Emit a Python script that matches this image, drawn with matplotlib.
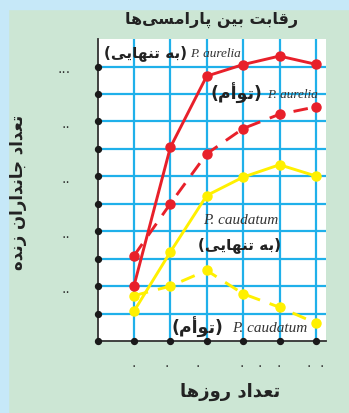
import matplotlib
matplotlib.use("Agg")
import matplotlib.pyplot as plt
from matplotlib.patches import Rectangle

# ---------------- data ----------------
days = [1, 2, 3, 4, 5, 6]
aurelia_alone = [2.0, 7.05, 9.65, 10.07, 10.38, 10.08]
aurelia_mixed = [3.1, 5.0, 6.82, 7.74, 8.26, 8.53]
caudatum_alone = [1.08, 3.24, 5.3, 5.97, 6.42, 6.01]
caudatum_mixed = [1.65, 2.0, 2.57, 1.72, 1.23, 0.65]

ytick_pos = [2, 4, 6, 8, 10]
ytick_labels = ['..', '..', '..', '..', '...']
xtick_pos = [1.0, 1.9, 2.75, 3.95, 4.45, 4.97, 5.8, 6.15]
xtick_labels = ['.'] * 8

title_fa = 'رقابت بین پارامسی\u200cها'
ylabel_fa = 'تعداد جانداران زنده'
xlabel_fa = 'تعداد روزها'
alone_fa = 'به تنهایی'
mixed_fa = 'توأم'

# ------------- simple Persian shaping -------------
FORMS = {
    'ا': ('\uFE8D', '\uFE8E'), 'أ': ('\uFE83', '\uFE84'),
    'د': ('\uFEA9', '\uFEAA'), 'ر': ('\uFEAD', '\uFEAE'),
    'ز': ('\uFEAF', '\uFEB0'), 'و': ('\uFEED', '\uFEEE'),
    'ب': ('\uFE8F', '\uFE90', '\uFE91', '\uFE92'),
    'ت': ('\uFE95', '\uFE96', '\uFE97', '\uFE98'),
    'ج': ('\uFE9D', '\uFE9E', '\uFE9F', '\uFEA0'),
    'س': ('\uFEB1', '\uFEB2', '\uFEB3', '\uFEB4'),
    'ع': ('\uFEC9', '\uFECA', '\uFECB', '\uFECC'),
    'ق': ('\uFED5', '\uFED6', '\uFED7', '\uFED8'),
    'م': ('\uFEE1', '\uFEE2', '\uFEE3', '\uFEE4'),
    'ن': ('\uFEE5', '\uFEE6', '\uFEE7', '\uFEE8'),
    'ه': ('\uFEE9', '\uFEEA', '\uFEEB', '\uFEEC'),
    'ی': ('\uFEEF', '\uFEF0', '\uFEF3', '\uFEF4'),
    'پ': ('\uFB56', '\uFB57', '\uFB58', '\uFB59'),
}


def shape(s):
    out = []
    for i, c in enumerate(s):
        if c not in FORMS:
            if c != '\u200c':
                out.append(c)
            continue
        prev = s[i - 1] if i > 0 else None
        nxt = s[i + 1] if i + 1 < len(s) else None
        pj = prev in FORMS and len(FORMS[prev]) == 4
        nj = len(FORMS[c]) == 4 and nxt in FORMS
        f = FORMS[c]
        if pj and nj:
            g = f[3]
        elif pj:
            g = f[1]
        elif nj:
            g = f[2]
        else:
            g = f[0]
        out.append(g)
    return ''.join(reversed(out))


def paren(s):
    return '(' + shape(s) + ')'


# ------------- figure -------------
W, H = 349, 414
fig = plt.figure(figsize=(W / 100, H / 100), dpi=100, facecolor='#cce6d4')
fig.patches.append(Rectangle((0, 0), 8 / W, 1, transform=fig.transFigure,
                             color='#c6e8f8', zorder=0))
fig.patches.append(Rectangle((0, 1 - 10 / H), 1, 10 / H, transform=fig.transFigure,
                             color='#c6e8f8', zorder=0))

x0, x1, y0, y1 = 97.5, 326, 342, 40
ax = fig.add_axes([x0 / W, 1 - y0 / H, (x1 - x0) / W, (y0 - y1) / H])
ax.set_facecolor('white')
ax.set_xlim(0, (x1 - x0) / 36.4)
ax.set_ylim(0, (y0 - y1) / 27.45)

grid_c = '#1fb0ea'
for d in days:
    ax.axvline(d, color=grid_c, lw=1.6, zorder=1)
for yy in range(1, 11):
    ax.axhline(yy, color=grid_c, lw=1.6, zorder=1)

for s in ['top', 'right']:
    ax.spines[s].set_visible(False)
for s in ['left', 'bottom']:
    ax.spines[s].set_color('#333333')
    ax.spines[s].set_linewidth(1.3)

# black dots on axes
ax.scatter([0] * 11, list(range(0, 11)), s=18, color='#1a1a1a', clip_on=False, zorder=5)
ax.scatter(days, [0] * len(days), s=18, color='#1a1a1a', clip_on=False, zorder=5)

red = '#e8202a'
yellow = '#fff000'
lw = 2.1
ms = 6.5
ax.plot(days, aurelia_alone, color=red, lw=lw, marker='o', ms=ms, zorder=4)
ax.plot(days, aurelia_mixed, color=red, lw=lw, marker='o', ms=ms, zorder=4,
        linestyle=(0, (5, 3.5)))
ax.plot(days, caudatum_alone, color=yellow, lw=lw, marker='o', ms=ms, zorder=3)
ax.plot(days, caudatum_mixed, color=yellow, lw=lw, marker='o', ms=ms, zorder=3,
        linestyle=(0, (5, 3.5)))

ax.set_yticks(ytick_pos)
ax.set_yticklabels(ytick_labels, fontsize=10, color='#333333')
ax.set_xticks(xtick_pos)
ax.set_xticklabels(xtick_labels, fontsize=10, color='#333333')
ax.tick_params(axis='y', length=0, pad=19.5)
ax.tick_params(axis='x', length=0, pad=10)


def px(xp, yp):
    return ((xp - x0) / 36.4, (y0 - yp) / 27.45)


fa_font = dict(family='DejaVu Sans', fontweight='bold', color='#222222')
lat_font = dict(family='Liberation Serif', style='italic', color='#333333')

# annotations
ax.text(*px(187, 53), paren(alone_fa), ha='right', va='center', fontsize=11, **fa_font)
ax.text(*px(190, 57), 'P. aurelia', ha='left', va='baseline', fontsize=9.5, **lat_font)

ax.text(*px(262, 93), paren(mixed_fa), ha='right', va='center', fontsize=12.5, **fa_font)
ax.text(*px(267, 98), 'P. aurelia', ha='left', va='baseline', fontsize=9.5, **lat_font)

ax.text(*px(241, 224), 'P. caudatum', ha='center', va='baseline', fontsize=11, **lat_font)
ax.text(*px(240, 245), paren(alone_fa), ha='center', va='center', fontsize=11, **fa_font)

ax.text(*px(223, 327), paren(mixed_fa), ha='right', va='center', fontsize=12.5, **fa_font)
ax.text(*px(232, 332), 'P. caudatum', ha='left', va='baseline', fontsize=11, **lat_font)

# title and axis labels
fig.text(212 / W, 1 - 20 / H, shape(title_fa), ha='center', va='center', fontsize=11.5, **fa_font)
fig.text(18 / W, 1 - 192 / H, shape(ylabel_fa), ha='center', va='center', rotation=90,
         fontsize=12, **fa_font)
fig.text(230 / W, 1 - 392 / H, shape(xlabel_fa), ha='center', va='center', fontsize=13, **fa_font)

fig.savefig('out.png', dpi=100, facecolor=fig.get_facecolor())
